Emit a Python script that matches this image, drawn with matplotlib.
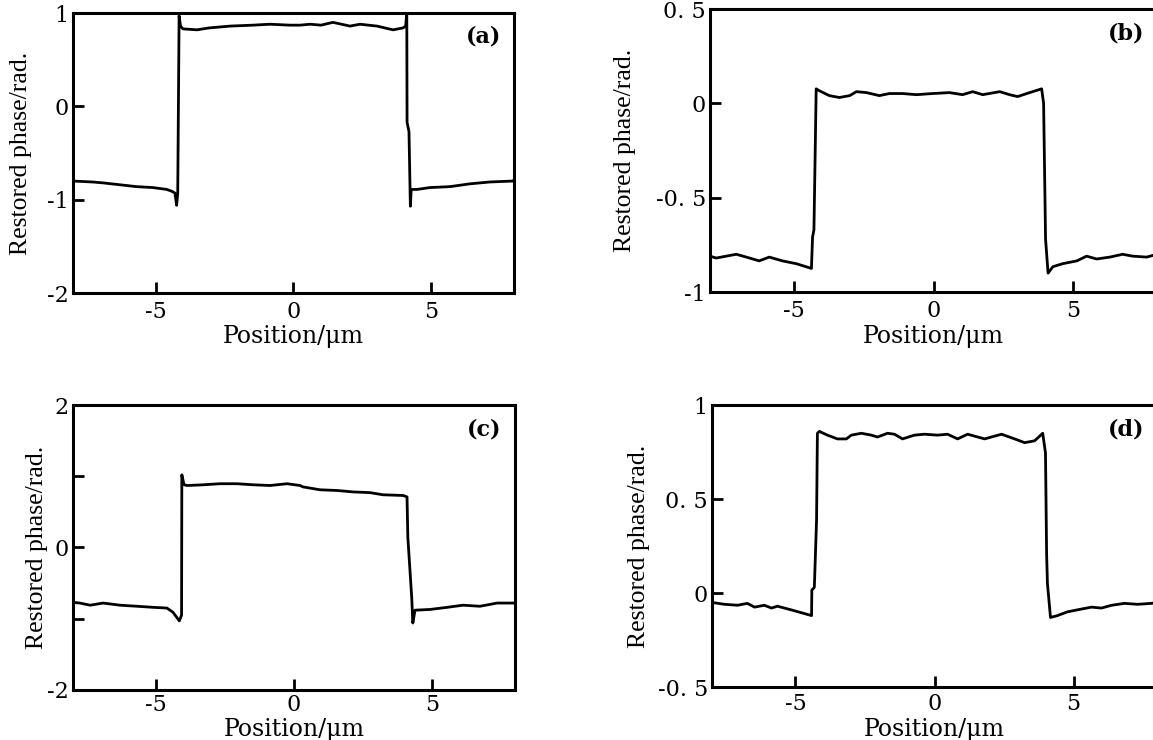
import matplotlib
matplotlib.use("Agg")
from matplotlib import pyplot as plt

xa = [-8.0, -7.3, -6.9, -6.3, -5.7, -5.1, -4.6, -4.41, -4.3, -4.24, -4.2, -4.17, -4.15,
      -4.1, -4.01, -3.5, -3.07, -2.3, -1.47, -0.85, -0.13, 0.24, 0.6, 1.0, 1.43, 2.05,
      2.41, 3.03, 3.61, 3.97, 4.07, 4.11, 4.12, 4.19, 4.24, 4.27, 4.48, 4.95, 5.68, 6.4,
      7.13, 7.96, 8.0]
ya = [-0.80, -0.81, -0.82, -0.84, -0.86, -0.87, -0.89, -0.91, -0.93, -1.06, -0.93, 0.2, 0.97,
      0.86, 0.83, 0.82, 0.84, 0.86, 0.87, 0.88, 0.87, 0.87, 0.88, 0.87, 0.90, 0.86,
      0.88, 0.86, 0.82, 0.84, 0.86, 1.0, -0.17, -0.27, -1.07, -0.89, -0.89, -0.87, -0.86, -0.83,
      -0.81, -0.80, -0.79]

xb = [-8.0, -7.78, -7.06, -6.7, -6.24, -5.88, -5.41, -4.91, -4.37, -4.33, -4.28, -4.2, -4.09,
      -3.73, -3.37, -3.0, -2.76, -2.4, -1.94, -1.58, -1.11, -0.61, -0.04, 0.57, 1.04, 1.4,
      1.76, 2.37, 2.72, 3.01, 3.44, 3.87, 3.94, 4.01, 4.1, 4.27, 4.62, 5.13, 5.48, 5.84,
      6.31, 6.77, 7.13, 7.63, 8.0]
yb = [-0.81, -0.82, -0.80, -0.815, -0.835, -0.815, -0.835, -0.85, -0.875, -0.71, -0.67, 0.077, 0.067,
      0.041, 0.031, 0.041, 0.062, 0.057, 0.041, 0.052, 0.052, 0.046, 0.052, 0.057, 0.046, 0.062,
      0.046, 0.062, 0.046, 0.036, 0.057, 0.077, 0.0, -0.72, -0.90, -0.866, -0.85, -0.835, -0.81, -0.825,
      -0.815, -0.80, -0.81, -0.815, -0.80]

xc = [-8.0, -7.75, -7.38, -6.91, -6.3, -5.68, -5.1, -4.6, -4.38, -4.15, -4.07, -4.06, -3.98,
      -3.87, -3.29, -2.68, -2.06, -1.48, -0.87, -0.25, 0.22, 0.33, 0.94, 1.56, 2.14, 2.75,
      3.22, 3.95, 4.09, 4.12, 4.19, 4.26, 4.3, 4.38, 4.92, 5.54, 6.12, 6.73, 7.35, 7.93, 8.0]
yc = [-0.77, -0.78, -0.81, -0.78, -0.81, -0.825, -0.84, -0.85, -0.91, -1.03, -0.95, 1.02, 0.88,
      0.87, 0.88, 0.895, 0.895, 0.88, 0.87, 0.895, 0.87, 0.85, 0.81, 0.80, 0.78, 0.77,
      0.74, 0.73, 0.71, 0.14, -0.28, -0.70, -1.06, -0.88, -0.87, -0.84, -0.81, -0.825, -0.78, -0.78, -0.78]

xd = [-8.0, -7.55, -7.08, -6.73, -6.47, -6.12, -5.86, -5.65, -5.14, -4.78, -4.42, -4.41, -4.32,
      -4.24, -4.21, -4.14, -3.85, -3.49, -3.17, -2.99, -2.63, -2.27, -2.05, -1.69, -1.44, -1.15,
      -0.72, -0.36, 0.11, 0.47, 0.83, 1.19, 1.8, 2.41, 2.88, 3.24, 3.6, 3.89, 3.99, 4.03, 4.06,
      4.17, 4.42, 4.78, 5.29, 5.65, 6.0, 6.37, 6.83, 7.3, 7.8, 8.0]
yd = [-0.05, -0.06, -0.065, -0.055, -0.075, -0.065, -0.08, -0.07, -0.09, -0.105, -0.12, 0.016, 0.03,
      0.39, 0.85, 0.86, 0.84, 0.82, 0.82, 0.84, 0.85, 0.84, 0.83, 0.85, 0.845, 0.82,
      0.84, 0.845, 0.84, 0.845, 0.82, 0.845, 0.82, 0.845, 0.82, 0.80, 0.81, 0.85, 0.745, 0.21, 0.05,
      -0.13, -0.12, -0.10, -0.085, -0.075, -0.08, -0.065, -0.055, -0.06, -0.055, -0.05]

xticks = [-5, 0, 5]
xlabels = ["-5", "0", "5"]

panels = [
    # Daten, Achsenposition, ylim, yticks, ylabels, Name, Lage der Achsentitel, Abstand x-Ticks
    (xa, ya, [0.0633, 0.604, 0.3825, 0.3784], (-2, 1), [-2, -1, 0, 1], ["-2", "-1", "0", "1"],
     "(a)", -0.093, -0.115, 6),
    (xb, yb, [0.6158, 0.6054, 0.3877, 0.3824], (-1, 0.5), [-1, -0.5, 0, 0.5], ["-1", "-0. 5", "0", "0. 5"],
     "(b)", -0.165, -0.115, 6),
    (xc, yc, [0.0633, 0.0676, 0.3834, 0.3851], (-2, 2), [-2, -1, 0, 1, 2], ["-2", "", "0", "", "2"],
     "(c)", -0.057, -0.1, 3),
    (xd, yd, [0.6175, 0.0716, 0.386, 0.381], (-0.5, 1), [-0.5, 0, 0.5, 1], ["-0. 5", "0", "0. 5", "1"],
     "(d)", -0.14, -0.11, 4),
]

fig = plt.figure(figsize=(11.53, 7.40), dpi=100)

for x, y, pos, ylim, yt, yl, name, ylab_x, xlab_y, xpad in panels:
    ax = fig.add_axes(pos)
    ax.plot(x, y, color="black", lw=2.0)
    ax.set_xlim(-8, 8)
    ax.set_ylim(*ylim)
    ax.set_xticks(xticks)
    ax.set_xticklabels(xlabels, family="DejaVu Serif", fontsize=16)
    ax.set_yticks(yt)
    ax.set_yticklabels(yl, family="DejaVu Serif", fontsize=16)
    ax.tick_params(direction="in", length=8, width=2, top=False, right=False)
    ax.tick_params(axis="y", pad=3)
    ax.tick_params(axis="x", pad=xpad)
    for s in ax.spines.values():
        s.set_linewidth(2.2)
    ax.set_xlabel("Position/μm", family="DejaVu Serif", fontsize=17)
    ax.xaxis.set_label_coords(0.5, xlab_y)
    ax.set_ylabel("Restored phase/rad.", family="Liberation Serif", fontsize=18.5)
    ax.yaxis.set_label_coords(ylab_x, 0.5)
    ax.text(0.93, 0.915, name, transform=ax.transAxes, ha="center", va="center",
            family="DejaVu Serif", fontweight="bold", fontsize=16)

fig.savefig("out.png", dpi=100)
